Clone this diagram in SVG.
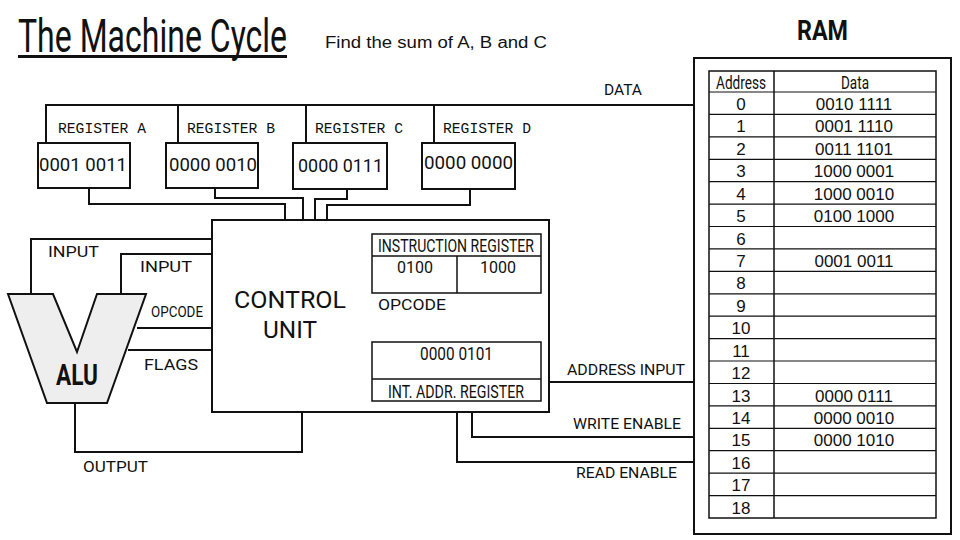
<svg xmlns="http://www.w3.org/2000/svg" width="960" height="540" viewBox="0 0 960 540">
<style>
.ln{fill:none;stroke:#111;stroke-width:2}
.bx{fill:#fff;stroke:#111;stroke-width:2}
.lb{font-family:Roboto,"Liberation Sans",sans-serif;font-size:14px;fill:#111}
.mono{font-family:"Liberation Mono","DejaVu Sans Mono",monospace;font-size:14px;fill:#111}
.reg{font-family:Roboto,"Liberation Sans",sans-serif;font-size:18px;fill:#111}
.cond{font-family:Roboto,"Liberation Sans",sans-serif;fill:#111}
.ram{font-family:"Liberation Sans",Arial,sans-serif;font-size:17px;fill:#111}
.c{text-anchor:middle}
</style>
<rect width="960" height="540" fill="#fff"/>
<g id="title">
<text class="cond" transform="translate(18,52) scale(0.65,1)" x="0" y="0" font-size="47" textLength="414" lengthAdjust="spacingAndGlyphs">The Machine Cycle</text>
<rect x="18" y="55" width="269" height="3" fill="#111"/>
<text x="325" y="48" font-family="Liberation Sans, Arial, sans-serif" font-size="16" fill="#111" textLength="222" lengthAdjust="spacingAndGlyphs">Find the sum of A, B and C</text>
</g>
<g id="connectors">
<polyline class="ln" points="46,143 46,105 694,105"/>
<line class="ln" x1="178" y1="105" x2="178" y2="143"/>
<line class="ln" x1="306" y1="105" x2="306" y2="143"/>
<line class="ln" x1="434" y1="105" x2="434" y2="143"/>
<polyline class="ln" points="89,188 89,204 285,204 285,220"/>
<polyline class="ln" points="215,188 215,198 303,198 303,220"/>
<polyline class="ln" points="347,189 347,199 315,199 315,220"/>
<polyline class="ln" points="470,189 470,205 327,205 327,220"/>
<polyline class="ln" points="31,294 31,239 212,239"/>
<polyline class="ln" points="121,294 121,254 212,254"/>
<line class="ln" x1="137" y1="328" x2="212" y2="328"/>
<line class="ln" x1="128" y1="350" x2="212" y2="350"/>
<polyline class="ln" points="75,403 75,452 302,452 302,412"/>
<line class="ln" x1="549" y1="382" x2="694" y2="382"/>
<polyline class="ln" points="472,412 472,437 694,437"/>
<polyline class="ln" points="457,412 457,462 694,462"/>
<text class="lb" x="604" y="95" textLength="38" lengthAdjust="spacingAndGlyphs">DATA</text>
<text class="lb" x="48" y="257" font-size="15" textLength="51" lengthAdjust="spacingAndGlyphs">INPUT</text>
<text class="lb" x="140" y="272" font-size="15" textLength="52" lengthAdjust="spacingAndGlyphs">INPUT</text>
<text class="lb" x="151" y="317" font-size="11" textLength="52" lengthAdjust="spacingAndGlyphs">OPCODE</text>
<text class="lb" x="144" y="370" font-size="15" textLength="54" lengthAdjust="spacingAndGlyphs">FLAGS</text>
<text class="lb" x="83" y="472" font-size="15" textLength="65" lengthAdjust="spacingAndGlyphs">OUTPUT</text>
<text class="lb" x="567" y="375" textLength="118" lengthAdjust="spacingAndGlyphs">ADDRESS INPUT</text>
<text class="lb" x="573" y="429" textLength="108" lengthAdjust="spacingAndGlyphs">WRITE ENABLE</text>
<text class="lb" x="576" y="478" textLength="101" lengthAdjust="spacingAndGlyphs">READ ENABLE</text>
</g>
<g id="register-a">
<rect class="bx" x="38" y="143" width="92" height="45"/>
<text class="mono" x="58" y="133" textLength="88" lengthAdjust="spacingAndGlyphs">REGISTER A</text>
<text class="reg" x="39" y="171" textLength="88" lengthAdjust="spacingAndGlyphs">0001 0011</text>
</g>
<g id="register-b">
<rect class="bx" x="166" y="143" width="92" height="45"/>
<text class="mono" x="187" y="133" textLength="88" lengthAdjust="spacingAndGlyphs">REGISTER B</text>
<text class="reg" x="169" y="171" textLength="88" lengthAdjust="spacingAndGlyphs">0000 0010</text>
</g>
<g id="register-c">
<rect class="bx" x="293" y="143" width="94" height="46"/>
<text class="mono" x="315" y="133" textLength="88" lengthAdjust="spacingAndGlyphs">REGISTER C</text>
<text class="reg" x="298" y="172" textLength="85" lengthAdjust="spacingAndGlyphs">0000 0111</text>
</g>
<g id="register-d">
<rect class="bx" x="422" y="143" width="93" height="46"/>
<text class="mono" x="443" y="133" textLength="88" lengthAdjust="spacingAndGlyphs">REGISTER D</text>
<text class="reg" x="424" y="169" textLength="89" lengthAdjust="spacingAndGlyphs">0000 0000</text>
</g>
<g id="alu">
<polygon points="8,294 53,294 77,352 97,294 146,294 107,403 47,403" fill="#eeeeee" stroke="#111" stroke-width="2" stroke-linejoin="miter"/>
<text class="cond" x="56" y="385" font-size="29" font-weight="bold" textLength="42" lengthAdjust="spacingAndGlyphs">ALU</text>
</g>
<g id="control-unit">
<rect class="bx" x="212" y="220" width="337" height="192"/>
<text class="cond c" x="290" y="308" font-size="24" textLength="112" lengthAdjust="spacingAndGlyphs">CONTROL</text>
<text class="cond c" x="290" y="338" font-size="24" textLength="54" lengthAdjust="spacingAndGlyphs">UNIT</text>
<rect x="372" y="234" width="169" height="59" fill="none" stroke="#111" stroke-width="1.5"/>
<line x1="372" y1="256" x2="541" y2="256" stroke="#111" stroke-width="1.5"/>
<line x1="457" y1="256" x2="457" y2="293" stroke="#111" stroke-width="1.5"/>
<text class="cond" x="378" y="252" font-size="19" textLength="156" lengthAdjust="spacingAndGlyphs">INSTRUCTION REGISTER</text>
<text class="cond c" x="415" y="273" font-size="16">0100</text>
<text class="cond c" x="498" y="273" font-size="16">1000</text>
<text class="lb" x="378" y="310" font-size="15" textLength="68" lengthAdjust="spacingAndGlyphs">OPCODE</text>
<rect x="372" y="342" width="169" height="59" fill="none" stroke="#111" stroke-width="1.5"/>
<line x1="372" y1="379" x2="541" y2="379" stroke="#111" stroke-width="1.5"/>
<text class="cond" x="420" y="360" font-size="19" textLength="73" lengthAdjust="spacingAndGlyphs">0000 0101</text>
<text class="cond" x="388" y="398" font-size="19" textLength="136" lengthAdjust="spacingAndGlyphs">INT. ADDR. REGISTER</text>
</g>
<g id="ram">
<text class="cond" x="797" y="40" font-size="28" font-weight="bold" textLength="51" lengthAdjust="spacingAndGlyphs">RAM</text>
<rect class="bx" x="694" y="58" width="257" height="476"/>
<rect x="709" y="71" width="227" height="447" fill="none" stroke="#111" stroke-width="1.5"/>
<line x1="774" y1="71" x2="774" y2="518" stroke="#111" stroke-width="1.5"/>
<g stroke="#111" stroke-width="1.2">
<line x1="709" y1="92" x2="936" y2="92"/>
<line x1="709" y1="114.4" x2="936" y2="114.4"/>
<line x1="709" y1="136.8" x2="936" y2="136.8"/>
<line x1="709" y1="159.3" x2="936" y2="159.3"/>
<line x1="709" y1="181.7" x2="936" y2="181.7"/>
<line x1="709" y1="204.1" x2="936" y2="204.1"/>
<line x1="709" y1="226.5" x2="936" y2="226.5"/>
<line x1="709" y1="248.9" x2="936" y2="248.9"/>
<line x1="709" y1="271.4" x2="936" y2="271.4"/>
<line x1="709" y1="293.8" x2="936" y2="293.8"/>
<line x1="709" y1="316.2" x2="936" y2="316.2"/>
<line x1="709" y1="338.6" x2="936" y2="338.6"/>
<line x1="709" y1="361" x2="936" y2="361"/>
<line x1="709" y1="383.5" x2="936" y2="383.5"/>
<line x1="709" y1="405.9" x2="936" y2="405.9"/>
<line x1="709" y1="428.3" x2="936" y2="428.3"/>
<line x1="709" y1="450.7" x2="936" y2="450.7"/>
<line x1="709" y1="473.1" x2="936" y2="473.1"/>
<line x1="709" y1="495.6" x2="936" y2="495.6"/>
</g>
<text class="cond" x="716" y="89" font-size="18" textLength="50" lengthAdjust="spacingAndGlyphs">Address</text>
<text class="cond" x="841" y="89" font-size="18" textLength="28" lengthAdjust="spacingAndGlyphs">Data</text>
<g class="ram c">
<text x="741" y="110">0</text>
<text x="741" y="132.4">1</text>
<text x="741" y="154.8">2</text>
<text x="741" y="177.3">3</text>
<text x="741" y="199.7">4</text>
<text x="741" y="222.1">5</text>
<text x="741" y="244.5">6</text>
<text x="741" y="266.9">7</text>
<text x="741" y="289.4">8</text>
<text x="741" y="311.8">9</text>
<text x="741" y="334.2">10</text>
<text x="741" y="356.6">11</text>
<text x="741" y="379">12</text>
<text x="741" y="401.5">13</text>
<text x="741" y="423.9">14</text>
<text x="741" y="446.3">15</text>
<text x="741" y="468.7">16</text>
<text x="741" y="491.1">17</text>
<text x="741" y="513.6">18</text>
<text x="854" y="110">0010 1111</text>
<text x="854" y="132.4">0001 1110</text>
<text x="854" y="154.8">0011 1101</text>
<text x="854" y="177.3">1000 0001</text>
<text x="854" y="199.7">1000 0010</text>
<text x="854" y="222.1">0100 1000</text>
<text x="854" y="266.9">0001 0011</text>
<text x="854" y="401.5">0000 0111</text>
<text x="854" y="423.9">0000 0010</text>
<text x="854" y="446.3">0000 1010</text>
</g>
</g>
</svg>
